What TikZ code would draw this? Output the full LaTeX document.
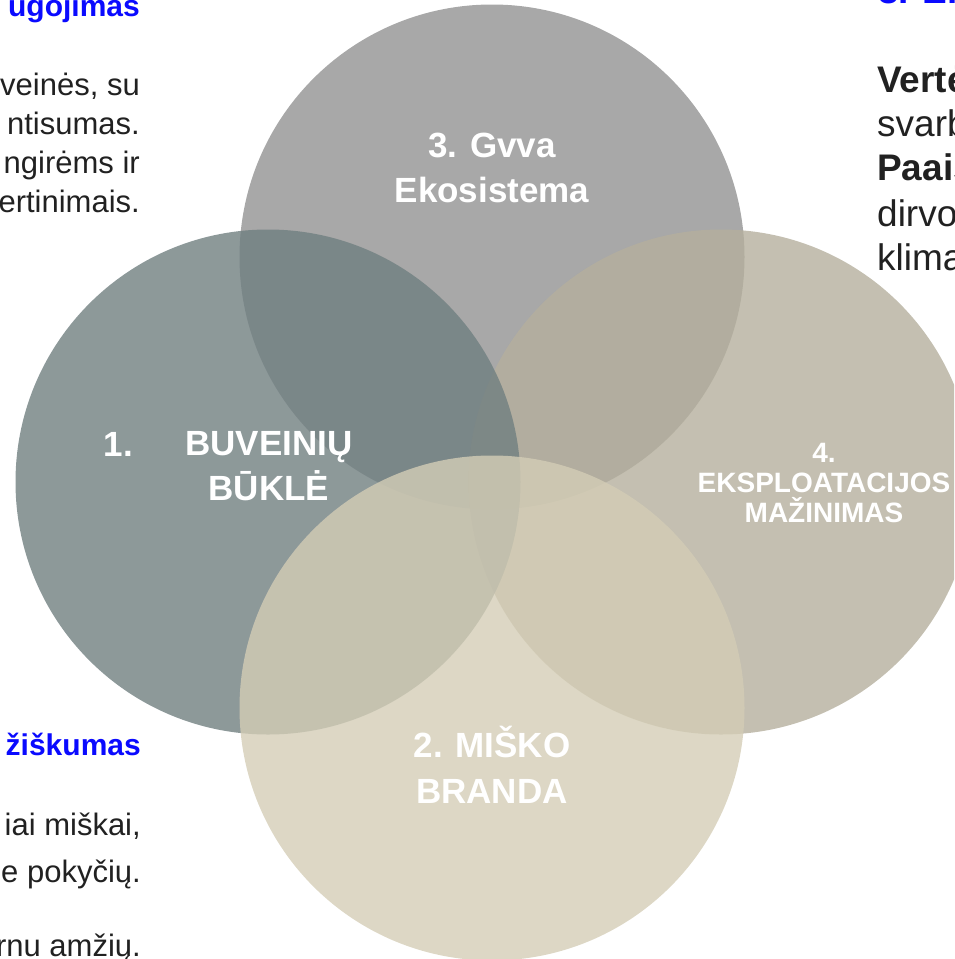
\documentclass[tikz,border=0pt]{standalone}
\usepackage{fontspec}
\setmainfont{Liberation Sans}
\definecolor{ekogray}{RGB}{146,146,146}
\definecolor{buvslate}{RGB}{112,127,128}
\definecolor{ekspsand}{RGB}{181,175,157}
\definecolor{brandcream}{RGB}{212,205,182}
\definecolor{headblue}{RGB}{10,10,255}
\definecolor{bodytext}{RGB}{33,33,33}

\begin{document}
\begin{tikzpicture}[x=1pt,y=-1pt,
    ring/.style={circle,minimum size=505pt,inner sep=0pt,fill opacity=0.8},
    lbl/.style={text=white,align=center,inner sep=0pt,font=\fontsize{35}{45}\selectfont\bfseries},
    bodyl/.style={inner sep=0pt,text=bodytext,font=\fontsize{31}{36}\selectfont},
    bodyr/.style={inner sep=0pt,text=bodytext,font=\fontsize{37}{44}\selectfont},
    headl/.style={inner sep=0pt,text=headblue,font=\fontsize{30}{36}\selectfont\bfseries}]
    \useasboundingbox (0,0) rectangle (954,959);
    \clip (0,0) rectangle (954,959);
    % circles
    \node[ring,fill=ekogray] (eko) at (492,257) {};
    \node[ring,fill=ekspsand] (eksp) at (721,482) {};
    \node[ring,fill=buvslate] (buv) at (268,482) {};
    \node[ring,fill=brandcream] (brand) at (492,708) {};
    % circle labels
    \node[lbl] (ekolbl) at (492,168) {3. Gvva\\Ekosistema};
    \node[lbl] (buvlbl) at (269,466) {BUVEINIŲ\\BŪKLĖ};
    \node[lbl,anchor=base east] (buvnum) at (133,456) {1.};
    \node[lbl,font=\fontsize{35}{46}\selectfont\bfseries] (brandlbl) at (492,765) {2. MIŠKO\\BRANDA};
    \node[lbl,font=\fontsize{28}{30}\selectfont\bfseries] (eksplbl) at (824,483) {4.\\EKSPLOATACIJOS\\MAŽINIMAS};
    % left text, top
    \node[headl,anchor=base east] (apsh) at (140,16) {ugojimas};
    \node[bodyl,anchor=base east] (aps1) at (140,95) {veinės, su};
    \node[bodyl,anchor=base east] (aps2) at (140,134) {ntisumas.};
    \node[bodyl,anchor=base east] (aps3) at (140,173) {ngirėms ir};
    \node[bodyl,anchor=base east] (aps4) at (140,212) {ertinimais.};
    % left text, bottom
    \node[headl,anchor=base east] (ivh) at (141,755) {žiškumas};
    \node[bodyl,anchor=base east] (iv1) at (141,835) {iai miškai,};
    \node[bodyl,anchor=base east] (iv2) at (141,882) {e pokyčių.};
    \node[bodyl,anchor=base east] (iv3) at (141,956) {rnu amžių.};
    % right text
    \node[headl,font=\fontsize{37}{44}\selectfont\bfseries,anchor=base west] (ekh) at (878,3) {3. Ek};
    \node[bodyr,anchor=base west] (ek1) at (877,92) {\bfseries Vertė};
    \node[bodyr,anchor=base west] (ek2) at (877,136) {svarb};
    \node[bodyr,anchor=base west] (ek3) at (877,180) {\bfseries Paaiš};
    \node[bodyr,anchor=base west] (ek4) at (877,226) {dirvo};
    \node[bodyr,anchor=base west] (ek5) at (877,270) {klima};
\end{tikzpicture}
\end{document}
